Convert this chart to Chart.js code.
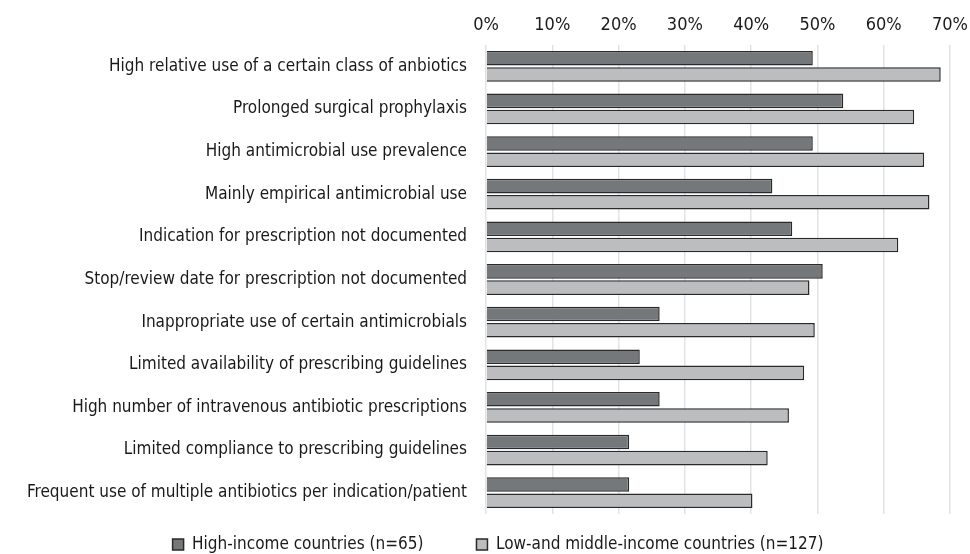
<!DOCTYPE html>
<html>
<head>
<meta charset="utf-8">
<script src="https://cdn.jsdelivr.net/npm/chart.js@4/dist/chart.umd.min.js"></script>
<style>
html,body{margin:0;padding:0;background:#fff;}
#wrap{width:970px;height:554px;position:relative;}
</style>
</head>
<body>
<div id="wrap"><canvas id="c" width="970" height="554"></canvas></div>
<script>
const categories = [
  "High relative use of a certain class of anbiotics",
  "Prolonged surgical prophylaxis",
  "High antimicrobial use prevalence",
  "Mainly empirical antimicrobial use",
  "Indication for prescription not documented",
  "Stop/review date for prescription not documented",
  "Inappropriate use of certain antimicrobials",
  "Limited availability of prescribing guidelines",
  "High number of intravenous antibiotic prescriptions",
  "Limited compliance to prescribing guidelines",
  "Frequent use of multiple antibiotics per indication/patient"
];
const highIncome = [49.3, 53.9, 49.3, 43.2, 46.2, 50.8, 26.2, 23.2, 26.2, 21.6, 21.6];
const lowMiddleIncome = [68.6, 64.6, 66.1, 66.9, 62.2, 48.8, 49.6, 48.0, 45.7, 42.5, 40.2];
const seriesNames = ["High-income countries (n=65)", "Low-and middle-income countries (n=127)"];
const xTicks = [0, 10, 20, 30, 40, 50, 60, 70];

const FONT = "'Liberation Sans Narrow', 'DejaVu Sans Condensed', 'Roboto', sans-serif";
Chart.defaults.font.family = FONT;
Chart.defaults.color = '#1a1a1a';

const LEGEND_PAD = 53;
const LEGEND_H = 40;
const LEGEND_SHIFT_Y = 31;
const LEGEND_SHIFT_X = 13;
const legendSpacing = {
  id: 'legendSpacing',
  beforeUpdate(chart) {
    const lg = chart.legend;
    if (lg && !lg.__wrapped) {
      lg.__wrapped = true;
      const fit = lg.fit.bind(lg);
      lg.fit = function () { fit(); this.height = LEGEND_H; };
      const draw = lg.draw.bind(lg);
      lg.draw = function () {
        const t = this.top, l = this.left, r = this.right;
        this.top = t - LEGEND_SHIFT_Y;
        this.left = l + LEGEND_SHIFT_X;
        this.right = r + LEGEND_SHIFT_X;
        draw();
        this.top = t; this.left = l; this.right = r;
      };
    }
  }
};

new Chart(document.getElementById('c'), {
  type: 'bar',
  data: {
    labels: categories,
    datasets: [
      { label: seriesNames[0], data: highIncome, backgroundColor: '#75787a', borderColor: '#2a2a2a', borderWidth: 1.5,
        categoryPercentage: 0.76, barPercentage: 0.9 },
      { label: seriesNames[1], data: lowMiddleIncome, backgroundColor: '#bcbdbf', borderColor: '#2a2a2a', borderWidth: 1.5,
        categoryPercentage: 0.76, barPercentage: 0.9 }
    ]
  },
  plugins: [legendSpacing],
  options: {
    indexAxis: 'y',
    responsive: false,
    animation: false,
    layout: { padding: { left: 0, right: 0, top: 0, bottom: 0 } },
    plugins: {
      legend: {
        position: 'bottom',
        labels: { boxWidth: 11, boxHeight: 11, font: { size: 17 }, color: '#1a1a1a', padding: LEGEND_PAD }
      },
      tooltip: { enabled: false }
    },
    scales: {
      x: {
        position: 'top',
        min: 0, max: 70,
        afterBuildTicks: (s) => { s.ticks = xTicks.map(v => ({ value: v })); },
        ticks: { callback: (v) => v + '%', font: { size: 18 }, color: '#1a1a1a', padding: 9 },
        grid: { color: '#e3e3e3', lineWidth: 1.5, drawTicks: false },
        border: { display: false },
        afterFit: (s) => { s.height = 45; s.paddingRight = 20; s.paddingLeft = 0; }
      },
      y: {
        ticks: { font: { size: 17 }, color: '#1a1a1a', padding: 19 },
        grid: { display: false, drawTicks: false },
        border: { display: false },
        afterFit: (s) => { s.width = 486; }
      }
    }
  }
});
</script>
</body>
</html>
